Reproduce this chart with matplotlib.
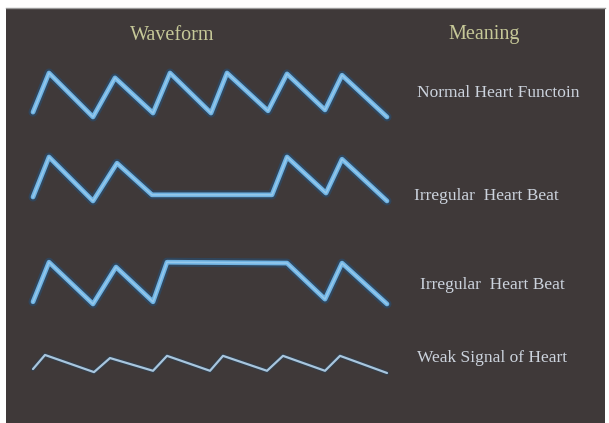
import matplotlib
matplotlib.use("Agg")
from matplotlib import pyplot as plt
from matplotlib.patches import Rectangle
import matplotlib.patheffects as pe

# Column headers
headers = ["Waveform", "Meaning"]

# Waveform vertices (t along the trace, amplitude 0..1)
t_normal = [33, 49, 93, 115, 153, 170, 211, 227, 268, 287, 325, 342, 387]
a_normal = [0.11, 1.0, 0.0, 0.89, 0.09, 1.0, 0.09, 1.0, 0.14, 0.98, 0.16, 0.95, 0.0]

t_pause = [33, 49, 93, 117, 152, 272, 287, 326, 342, 387]
a_pause = [0.09, 1.0, 0.0, 0.86, 0.14, 0.14, 1.0, 0.18, 0.95, 0.0]

t_hold = [33, 49, 93, 116, 153, 167, 287, 325, 342, 387]
a_hold = [0.05, 0.95, 0.0, 0.84, 0.05, 0.95, 0.93, 0.11, 0.93, 0.0]

t_weak = [33, 45, 94, 110, 153, 167, 210, 223, 267, 283, 325, 340, 387]
a_weak = [0.09, 0.41, 0.02, 0.34, 0.05, 0.39, 0.05, 0.39, 0.05, 0.39, 0.05, 0.39, 0.0]

labels = ["Normal Heart Functoin", "Irregular  Heart Beat",
          "Irregular  Heart Beat", "Weak Signal of Heart"]

W, H = 609, 423
fig = plt.figure(figsize=(W / 100, H / 100), dpi=100)
fig.patch.set_facecolor("white")

# background axes in pixel units
bg = fig.add_axes([0, 0, 1, 1])
bg.set_xlim(0, W)
bg.set_ylim(H, 0)
bg.axis("off")
bg.add_patch(Rectangle((6, 8), 599, 420, facecolor="#3f3939", edgecolor="none"))
bg.plot([6, 605], [8, 8], color="#9a9a9a", lw=1)

serif = ["Liberation Serif", "DejaVu Serif"]
bg.text(172, 36, headers[0], color="#c6c898", fontsize=14.5, family=serif,
        ha="center", va="center")
bg.text(484, 34, headers[1], color="#c6c898", fontsize=14.5, family=serif,
        ha="center", va="center")

label_x = [417, 414, 420, 417]
label_y = [93, 196, 285, 358]
for lx, ly, txt in zip(label_x, label_y, labels):
    bg.text(lx, ly, txt, color="#ccd3dd", fontsize=12.5, family=serif,
            ha="left", va="center")

# one axes per trace; amplitude 0..1 spans 44 px
rows = [(t_normal, a_normal, 117, "thick"),
        (t_pause, a_pause, 201, "thick"),
        (t_hold, a_hold, 304, "thick"),
        (t_weak, a_weak, 373, "thin")]

for t, a, base, kind in rows:
    ax = fig.add_axes([0, (H - base) / H, 1, 44 / H])
    ax.set_xlim(0, W)
    ax.set_ylim(0, 1)
    ax.axis("off")
    if kind == "thick":
        ax.plot(t, a, color="#70b4e4", lw=3.4, solid_joinstyle="round",
                solid_capstyle="round", clip_on=False,
                path_effects=[pe.Stroke(linewidth=6.5, foreground="#274e72", alpha=0.6),
                              pe.Normal()])
        ax.plot(t, a, color="#b0d8f2", lw=1.1, solid_joinstyle="round",
                clip_on=False, alpha=0.6)
    else:
        ax.plot(t, a, color="#a8c6de", lw=1.6, solid_joinstyle="round",
                solid_capstyle="round", clip_on=False,
                path_effects=[pe.Stroke(linewidth=3.2, foreground="#2c4358", alpha=0.6),
                              pe.Normal()])

fig.savefig("out.png", dpi=100, facecolor=fig.get_facecolor())
